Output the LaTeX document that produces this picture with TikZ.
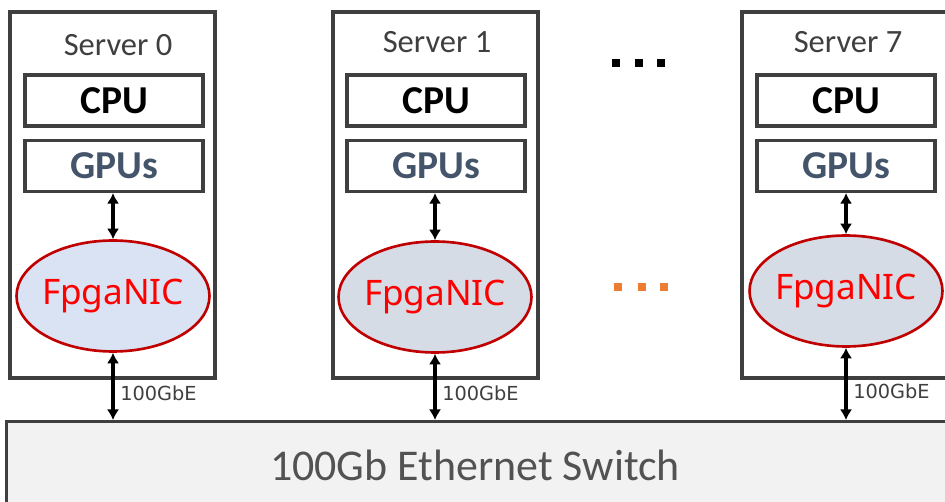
\documentclass[tikz,border=0pt]{standalone}
\usepackage{fontspec}
\setmainfont{Carlito}
\newfontfamily\nicfont{Noto Sans}
\newfontfamily\linkfont{DejaVu Sans}
\usetikzlibrary{arrows.meta,shapes.geometric}
\definecolor{boxline}{HTML}{3F3F3F}
\definecolor{gpucol}{HTML}{44546A}
\definecolor{nicred}{HTML}{C00000}
\definecolor{nicblue}{HTML}{DAE3F3}
\definecolor{nicgray}{HTML}{D6DCE5}
\definecolor{switchfill}{HTML}{F2F2F2}
\definecolor{dotorange}{HTML}{ED7D31}
\tikzset{
  server/.style={draw=boxline,line width=1.8pt,minimum width=4.1cm,minimum height=7.32cm,inner sep=0pt},
  part/.style={draw=boxline,line width=1.8pt,minimum width=3.56cm,minimum height=1.02cm,inner sep=0pt,font=\fontsize{22.5}{24}\selectfont\bfseries},
  nic/.style={ellipse,draw=nicred,line width=1.5pt,minimum width=3.86cm,minimum height=2.22cm,inner sep=0pt,text=red,font=\nicfont\fontsize{20}{22}\selectfont},
  link/.style={{Latex[length=6pt,width=7pt]}-{Latex[length=6pt,width=7pt]},line width=2.3pt},
  dot/.style={minimum size=0.17cm,inner sep=0pt}
}
\begin{document}
\begin{tikzpicture}[x=0.02cm,y=-0.02cm]
  \clip (0,0) rectangle (945,502);
  \fill[white] (0,0) rectangle (945,502);

  % switch
  \node[draw=boxline,line width=1.8pt,fill=switchfill,minimum width=19.1cm,minimum height=2cm,
        anchor=north west,inner sep=0pt] (sw) at (5,420) {};
  \node[text=boxline!90,font=\fontsize{25}{27}\selectfont] (swlabel) at (475,465) {100Gb Ethernet Switch};

  % servers
  \begin{scope}[every node/.style={server}]
    \node (s0) at (112.5,195) {};
    \node (s1) at (435.5,195) {};
    \node (s7) at (844.5,195) {};
  \end{scope}

  \begin{scope}[every node/.style={font=\fontsize{18.5}{20}\selectfont,text=boxline}]
    \node (n0) at (118,45) {Server 0};
    \node (n1) at (437,42) {Server 1};
    \node (n7) at (848,42) {Server 7};
  \end{scope}

  \begin{scope}[every node/.style={part}]
    \node (cpu0) at (114,100.5) {CPU};
    \node (cpu1) at (436,100.5) {CPU};
    \node (cpu7) at (846,100.5) {CPU};
    \node[text=gpucol] (gpu0) at (114,166) {GPUs};
    \node[text=gpucol] (gpu1) at (436,166) {GPUs};
    \node[text=gpucol] (gpu7) at (846,166) {GPUs};
  \end{scope}

  \node[nic,fill=nicblue] (nic0) at (113,296) {\makebox[0pt]{FpgaNIC}};
  \node[nic,fill=nicgray] (nic1) at (435,297) {\makebox[0pt]{FpgaNIC}};
  \node[nic,fill=nicgray] (nic7) at (846,291) {\makebox[0pt]{FpgaNIC}};

  % links
  \draw[link] (gpu0.south -| nic0) -- (nic0.north);
  \draw[link] (gpu1.south -| nic1) -- (nic1.north);
  \draw[link] (gpu7.south -| nic7) -- (nic7.north);
  \begin{scope}[every node/.style={right,font=\linkfont\fontsize{11}{12}\selectfont,text=boxline,inner sep=3pt}]
    \draw[link] (nic0.south) -- node[pos=0.6] {100GbE} (nic0.south |- sw.north);
    \draw[link] (nic1.south) -- node[pos=0.6] {100GbE} (nic1.south |- sw.north);
    \draw[link] (nic7.south) -- node[pos=0.6] {100GbE} (nic7.south |- sw.north);
  \end{scope}

  % dots
  \begin{scope}[every node/.style={dot}]
    \node[fill=black] (d1) at (616,63) {};
    \node[fill=black] (d2) at (639,63) {};
    \node[fill=black] (d3) at (661,63) {};
    \node[fill=dotorange] (e1) at (618,287) {};
    \node[fill=dotorange] (e2) at (642,287) {};
    \node[fill=dotorange] (e3) at (664,287) {};
  \end{scope}
\end{tikzpicture}
\end{document}
